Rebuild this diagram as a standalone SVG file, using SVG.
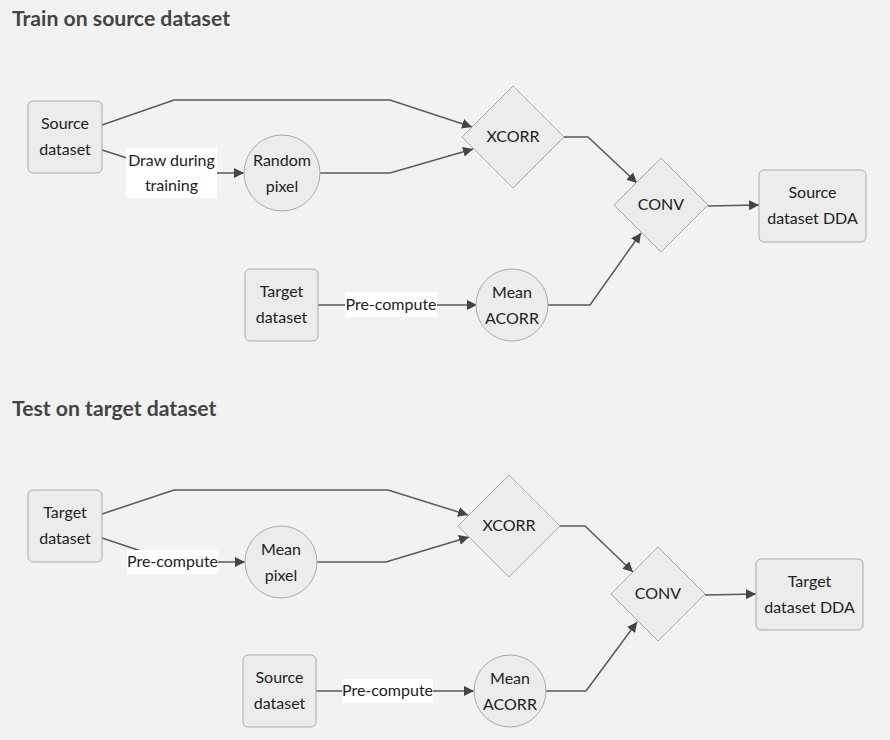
<svg xmlns="http://www.w3.org/2000/svg" width="890" height="740" viewBox="0 0 890 740">
<defs>
<marker id="arr" viewBox="0 0 10 10" refX="10" refY="5" markerWidth="10" markerHeight="10" markerUnits="userSpaceOnUse" orient="auto">
<path d="M0,0 L10,5 L0,10 z" fill="#444"/>
</marker>
</defs>
<style>
.title{font-family:Lato,"Liberation Sans",sans-serif;font-weight:bold;font-size:21.2px;fill:#444}
.node{fill:#ececec;stroke:#aaa;stroke-width:1}
.t{font-family:Lato,"Liberation Sans",sans-serif;font-size:16px;fill:#222;text-anchor:middle}
.edge{fill:none;stroke:#595959;stroke-width:1.5}
.lbg{fill:#fff}
</style>
<rect width="890" height="740" fill="#f2f2f2"/>
<text class="title" x="12" y="26">Train on source dataset</text>
<text class="title" x="12" y="416">Test on target dataset</text>

<g id="connectors">
<path class="edge" d="M102,125 L174,100 L390,100 L472,127" marker-end="url(#arr)"/>
<path class="edge" d="M102,150 L174,173 L244,173" marker-end="url(#arr)"/>
<path class="edge" d="M320,173 L390,173 L473,149" marker-end="url(#arr)"/>
<path class="edge" d="M564,137 L588,137 L637,183" marker-end="url(#arr)"/>
<path class="edge" d="M548,305 L590,305 L641,233" marker-end="url(#arr)"/>
<path class="edge" d="M708,206 L759,205" marker-end="url(#arr)"/>
<path class="edge" d="M318,305 L477,305" marker-end="url(#arr)"/>

<path class="edge" d="M102,514 L174,490 L388,490 L468,515" marker-end="url(#arr)"/>
<path class="edge" d="M102,538 L174,562 L245,562" marker-end="url(#arr)"/>
<path class="edge" d="M317,562 L386,562 L469,537" marker-end="url(#arr)"/>
<path class="edge" d="M560,526 L585,526 L633,572" marker-end="url(#arr)"/>
<path class="edge" d="M546,691 L586,691 L637,622" marker-end="url(#arr)"/>
<path class="edge" d="M705,595 L756,594" marker-end="url(#arr)"/>
<path class="edge" d="M316,691 L474,691" marker-end="url(#arr)"/>

<g id="label-draw">
<rect class="lbg" x="126" y="148" width="91" height="50"/>
<text class="t" x="171.5" y="166">Draw during</text>
<text class="t" x="171.5" y="191">training</text>
</g>
<g id="label-pre1">
<rect class="lbg" x="345" y="292" width="92" height="25"/>
<text class="t" x="391" y="310">Pre-compute</text>
</g>
<g id="label-pre2">
<rect class="lbg" x="127" y="550" width="91" height="24"/>
<text class="t" x="172.5" y="567">Pre-compute</text>
</g>
<g id="label-pre3">
<rect class="lbg" x="342" y="679" width="91" height="24"/>
<text class="t" x="387.5" y="696">Pre-compute</text>
</g>
</g>

<g id="src1">
<rect class="node" x="28" y="101" width="74" height="72" rx="5"/>
<text class="t" x="65" y="129">Source</text>
<text class="t" x="65" y="155">dataset</text>
</g>
<g id="rand">
<circle class="node" cx="282" cy="173" r="38"/>
<text class="t" x="282" y="166">Random</text>
<text class="t" x="282" y="192">pixel</text>
</g>
<g id="xcorr1">
<polygon class="node" points="513,86 564,137 513,188 462,137"/>
<text class="t" x="513" y="142">XCORR</text>
</g>
<g id="conv1">
<polygon class="node" points="661,158 708,205 661,252 614,205"/>
<text class="t" x="661" y="210">CONV</text>
</g>
<g id="dda1">
<rect class="node" x="759" y="170" width="107" height="72" rx="5"/>
<text class="t" x="812.5" y="198">Source</text>
<text class="t" x="812.5" y="224">dataset DDA</text>
</g>
<g id="tgt1">
<rect class="node" x="245" y="269" width="73" height="72" rx="5"/>
<text class="t" x="281.5" y="297">Target</text>
<text class="t" x="281.5" y="323">dataset</text>
</g>
<g id="acorr1">
<circle class="node" cx="512" cy="305" r="36"/>
<text class="t" x="512" y="298">Mean</text>
<text class="t" x="512" y="324">ACORR</text>
</g>

<g id="tgt2">
<rect class="node" x="28" y="490" width="74" height="72" rx="5"/>
<text class="t" x="65" y="518">Target</text>
<text class="t" x="65" y="544">dataset</text>
</g>
<g id="meanpix">
<circle class="node" cx="281" cy="562" r="36"/>
<text class="t" x="281" y="555">Mean</text>
<text class="t" x="281" y="581">pixel</text>
</g>
<g id="xcorr2">
<polygon class="node" points="509,475 560,526 509,577 458,526"/>
<text class="t" x="509" y="531">XCORR</text>
</g>
<g id="conv2">
<polygon class="node" points="658,547 705,594 658,641 611,594"/>
<text class="t" x="658" y="599">CONV</text>
</g>
<g id="dda2">
<rect class="node" x="756" y="559" width="107" height="71" rx="5"/>
<text class="t" x="809.5" y="587">Target</text>
<text class="t" x="809.5" y="613">dataset DDA</text>
</g>
<g id="src2">
<rect class="node" x="243" y="655" width="73" height="72" rx="5"/>
<text class="t" x="279.5" y="683">Source</text>
<text class="t" x="279.5" y="709">dataset</text>
</g>
<g id="acorr2">
<circle class="node" cx="510" cy="691" r="36"/>
<text class="t" x="510" y="684">Mean</text>
<text class="t" x="510" y="710">ACORR</text>
</g>
</svg>
